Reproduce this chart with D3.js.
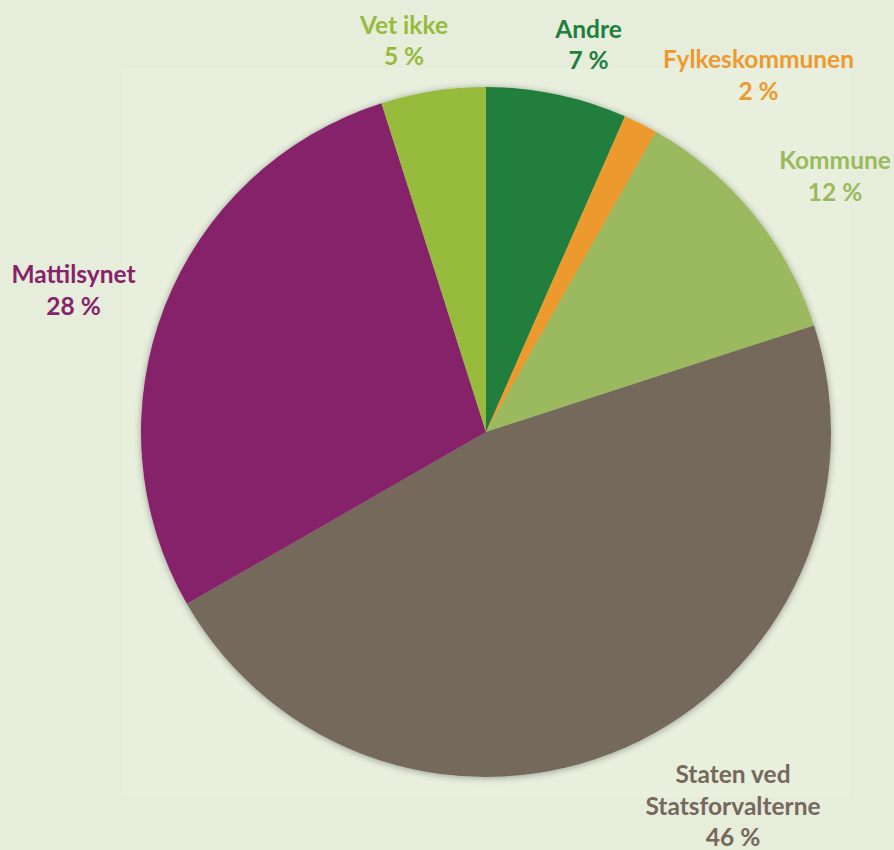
<!DOCTYPE html>
<html>
<head>
<meta charset="utf-8">
<script src="https://cdn.jsdelivr.net/npm/d3@7"></script>
<style>
html,body{margin:0;padding:0;background:#E6EDDB;}
svg{display:block;}
</style>
</head>
<body>
<svg id="chart" width="894" height="850"></svg>
<script>
// Data (clockwise from 12 o'clock)
const categories = ["Andre", "Fylkeskommunen", "Kommune", "Staten ved Statsforvalterne", "Mattilsynet", "Vet ikke"];
const values = [6.6, 1.6, 11.8, 46.7, 28.4, 4.9];
const labelLines = [["Andre"], ["Fylkeskommunen"], ["Kommune"], ["Staten ved", "Statsforvalterne"], ["Mattilsynet"], ["Vet ikke"]];
const pctLabels = ["7 %", "2 %", "12 %", "46 %", "28 %", "5 %"];
const colors = ["#217E3E", "#EC9A2D", "#9BBA5E", "#75695C", "#86236B", "#97BB3C"];

// Layout (label anchor points, first line baseline)
const labelPos = [[588.5, 37.5], [758.5, 68], [835, 169], [733, 783], [73.5, 283], [404, 33.5]];

const W = 894, H = 850;
const cx = 486, cy = 432, R = 345;
const svg = d3.select("#chart");

svg.append("rect").attr("x", 0).attr("y", 0).attr("width", W).attr("height", H).attr("fill", "#E6EDDB");
svg.append("rect").attr("x", 123).attr("y", 68).attr("width", 727).attr("height", 729).attr("fill", "#E8EFDD");

const defs = svg.append("defs");
const f = defs.append("filter").attr("id", "shadow").attr("x", "-10%").attr("y", "-10%").attr("width", "120%").attr("height", "120%");
f.append("feDropShadow").attr("dx", 0).attr("dy", 1).attr("stdDeviation", 3.5).attr("flood-color", "#000").attr("flood-opacity", 0.35);

const data = categories.map((c, i) => ({cat: c, value: values[i], i}));
const pie = d3.pie().value(d => d.value).sort(null);
const arc = d3.arc().innerRadius(0).outerRadius(R);

const g = svg.append("g").attr("transform", `translate(${cx},${cy})`).attr("filter", "url(#shadow)");
g.selectAll("path").data(pie(data)).join("path")
  .attr("d", arc)
  .attr("fill", d => colors[d.data.i]);

const lg = svg.append("g")
  .attr("font-family", "Lato, 'Open Sans', sans-serif")
  .attr("font-weight", "bold")
  .attr("font-size", 24.5)
  .attr("text-anchor", "middle");

data.forEach((d, i) => {
  const lines = labelLines[i].concat([pctLabels[i]]);
  const t = lg.append("text").attr("fill", colors[i]);
  lines.forEach((ln, k) => {
    t.append("tspan").attr("x", labelPos[i][0]).attr("y", labelPos[i][1] + k * 31.7).text(ln);
  });
});
</script>
</body>
</html>
